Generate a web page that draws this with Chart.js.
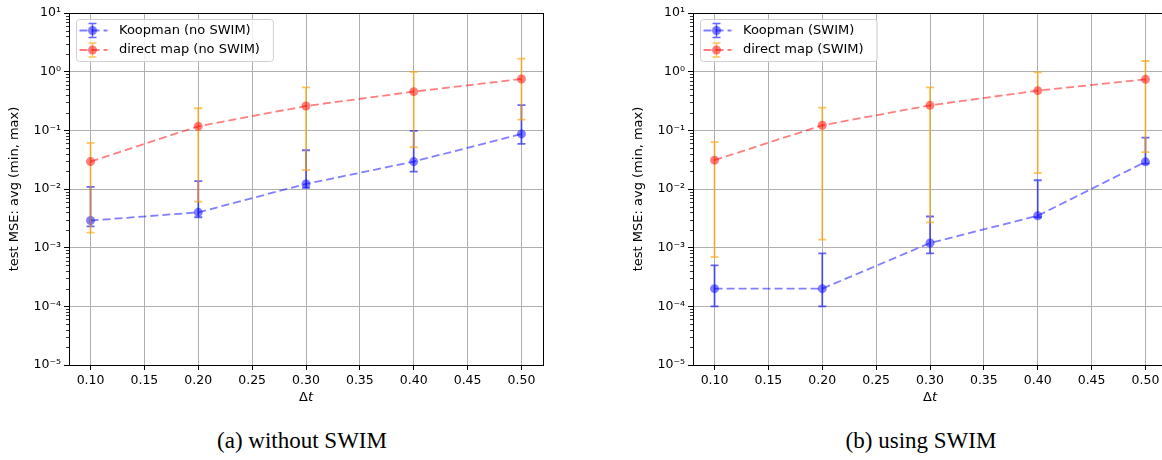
<!DOCTYPE html>
<html>
<head>
<meta charset="utf-8">
<script src="https://cdn.jsdelivr.net/npm/chart.js@4.4.1/dist/chart.umd.min.js"></script>
<style>
  html, body { margin: 0; padding: 0; background: #fff; overflow: hidden; width: 1162px; height: 460px; }
  .panel { position: absolute; top: 0; width: 560px; height: 410px; }
  .caption { position: absolute; top: 428px; font-family: "Liberation Serif", "Times New Roman", serif; font-size: 23px; color: #000; white-space: nowrap; transform: translateX(-50%); }
</style>
</head>
<body>
<div class="panel" style="left:0px"><canvas id="noSwim" width="560" height="410"></canvas></div>
<div class="panel" style="left:624px"><canvas id="swim" width="560" height="410"></canvas></div>
<div class="caption" style="left:302px">(a) without SWIM</div>
<div class="caption" style="left:921px">(b) using SWIM</div>

<script>
// time steps
const dt = [0.10, 0.20, 0.30, 0.40, 0.50];
const xTicks = [0.10, 0.15, 0.20, 0.25, 0.30, 0.35, 0.40, 0.45, 0.50];
const yTicks = [1e-5, 1e-4, 1e-3, 1e-2, 1e-1, 1e0, 1e1];

// (a) without SWIM
const koopNoSwimAvg = [0.0029, 0.0040, 0.0122, 0.0293, 0.087];
const koopNoSwimMin = [0.0023, 0.0033, 0.0105, 0.0198, 0.059];
const koopNoSwimMax = [0.0109, 0.0136, 0.0458, 0.0977, 0.27];
const directNoSwimAvg = [0.0293, 0.117, 0.26, 0.456, 0.75];
const directNoSwimMin = [0.0018, 0.0061, 0.021, 0.0515, 0.152];
const directNoSwimMax = [0.061, 0.238, 0.54, 0.99, 1.67];

// (b) using SWIM
const koopSwimAvg = [0.0002, 0.0002, 0.0012, 0.0035, 0.029];
const koopSwimMin = [0.0001, 0.0001, 0.0008, 0.0033, 0.027];
const koopSwimMax = [0.0005, 0.0008, 0.0034, 0.0141, 0.075];
const directSwimAvg = [0.031, 0.122, 0.267, 0.475, 0.74];
const directSwimMin = [0.00069, 0.00137, 0.0027, 0.0186, 0.0424];
const directSwimMax = [0.063, 0.244, 0.54, 0.976, 1.52];

const FONT = "'DejaVu Sans', sans-serif";
const SUP = { '-': '\u207B', '0': '\u2070', '1': '\u00B9', '2': '\u00B2', '3': '\u00B3', '4': '\u2074', '5': '\u2075' };

function pts(ys) {
  return dt.map((x, i) => ({ x: x, y: ys[i] }));
}

function series(label, avg, mn, mx, col, barCol, order) {
  return {
    label: label,
    data: pts(avg),
    errMin: mn,
    errMax: mx,
    errColor: barCol,
    borderColor: col,
    backgroundColor: col,
    pointBackgroundColor: col,
    pointBorderWidth: 0,
    pointRadius: 4.5,
    borderWidth: 1.8,
    borderDash: [8, 4],
    tension: 0,
    order: order,
    clip: false
  };
}

// error bars, drawn just before each dataset's line and markers
const errorBars = {
  id: 'errorBars',
  beforeDatasetDraw(chart, args) {
    const ds = chart.data.datasets[args.index];
    if (!ds.errMin) return;
    const ctx = chart.ctx, xs = chart.scales.x, ys = chart.scales.y;
    ctx.save();
    ctx.strokeStyle = ds.errColor;
    ctx.lineWidth = 1.8;
    ctx.setLineDash([]);
    dt.forEach((x, i) => {
      const px = xs.getPixelForValue(x);
      const y0 = ys.getPixelForValue(ds.errMin[i]);
      const y1 = ys.getPixelForValue(ds.errMax[i]);
      ctx.beginPath();
      ctx.moveTo(px, y0); ctx.lineTo(px, y1);
      ctx.moveTo(px - 4, y0); ctx.lineTo(px + 4, y0);
      ctx.moveTo(px - 4, y1); ctx.lineTo(px + 4, y1);
      ctx.stroke();
    });
    ctx.restore();
  }
};

// frame, minor ticks, axis titles and legend
const decorations = {
  id: 'decorations',
  afterDraw(chart) {
    const ctx = chart.ctx, a = chart.chartArea, ys = chart.scales.y;
    ctx.save();
    // minor log ticks
    ctx.strokeStyle = '#000';
    ctx.lineWidth = 0.8;
    ctx.beginPath();
    for (let d = -5; d < 1; d++) {
      for (let k = 2; k < 10; k++) {
        const py = Math.round(ys.getPixelForValue(k * Math.pow(10, d))) + 0.5;
        ctx.moveTo(a.left - 3, py); ctx.lineTo(a.left, py);
      }
    }
    ctx.stroke();
    // spines
    ctx.lineWidth = 1;
    ctx.strokeRect(Math.round(a.left) + 0.5, Math.round(a.top) + 0.5, Math.round(a.right - a.left), Math.round(a.bottom - a.top));

    // axis titles
    ctx.fillStyle = '#000';
    ctx.font = "13px " + FONT;
    ctx.textBaseline = 'middle';
    ctx.textAlign = 'left';
    const cx = (a.left + a.right) / 2;
    const wD = ctx.measureText('\u0394').width;
    ctx.font = "oblique 13px " + FONT;
    const wT = ctx.measureText('t').width;
    ctx.font = "13px " + FONT;
    ctx.fillText('\u0394', cx - (wD + wT) / 2, 398);
    ctx.font = "oblique 13px " + FONT;
    ctx.fillText('t', cx - (wD + wT) / 2 + wD, 398);

    ctx.font = "13px " + FONT;
    ctx.translate(15, (a.top + a.bottom) / 2);
    ctx.rotate(-Math.PI / 2);
    ctx.textAlign = 'center';
    ctx.fillText('test MSE: avg (min, max)', 0, 0);
    ctx.setTransform(1, 0, 0, 1, 0, 0);

    // legend
    ctx.font = "13px " + FONT;
    const dss = chart.data.datasets;
    let wMax = 0;
    dss.forEach(ds => { wMax = Math.max(wMax, ctx.measureText(ds.label).width); });
    const bx = a.left + 7.5, by = a.top + 6.5, bw = 50 + wMax + 6, bh = 42;
    ctx.beginPath();
    ctx.roundRect(bx, by, bw, bh, 3);
    ctx.fillStyle = 'rgba(255,255,255,0.8)';
    ctx.fill();
    ctx.strokeStyle = '#d0d0d0';
    ctx.lineWidth = 1;
    ctx.stroke();
    dss.forEach((ds, i) => {
      const ly = a.top + 17.5 + i * 19.5;
      const mx = bx + 16;
      ctx.strokeStyle = ds.errColor;
      ctx.lineWidth = 1.5;
      ctx.setLineDash([]);
      ctx.beginPath();
      ctx.moveTo(mx, ly - 7); ctx.lineTo(mx, ly + 7);
      ctx.moveTo(mx - 4, ly - 7); ctx.lineTo(mx + 4, ly - 7);
      ctx.moveTo(mx - 4, ly + 7); ctx.lineTo(mx + 4, ly + 7);
      ctx.stroke();
      ctx.strokeStyle = ds.borderColor;
      ctx.lineWidth = 1.8;
      ctx.setLineDash([8, 4]);
      ctx.beginPath();
      ctx.moveTo(bx + 3, ly); ctx.lineTo(bx + 31, ly);
      ctx.stroke();
      ctx.setLineDash([]);
      ctx.fillStyle = ds.borderColor;
      ctx.beginPath();
      ctx.arc(mx, ly, 4.5, 0, Math.PI * 2);
      ctx.fill();
      ctx.fillStyle = '#000';
      ctx.textAlign = 'left';
      ctx.fillText(ds.label, bx + 42.5, ly);
    });
    ctx.restore();
  }
};

function makeChart(id, datasets) {
  return new Chart(document.getElementById(id), {
    type: 'line',
    data: { datasets: datasets },
    options: {
      responsive: false,
      animation: false,
      layout: { padding: { top: 13, right: 17, left: 0, bottom: 0 } },
      plugins: { legend: { display: false }, tooltip: { enabled: false } },
      scales: {
        x: {
          type: 'linear',
          min: 0.08,
          max: 0.52,
          afterBuildTicks: s => { s.ticks = xTicks.map(v => ({ value: v })); },
          afterFit: s => { s.height = 45; },
          grid: { color: '#b0b0b0', lineWidth: 1, tickLength: 5, tickColor: '#000' },
          border: { display: false },
          ticks: {
            maxRotation: 0,
            autoSkip: false,
            padding: 3,
            color: '#000',
            font: { family: FONT, size: 12.5 },
            callback: v => v.toFixed(2)
          }
        },
        y: {
          type: 'logarithmic',
          min: 1e-5,
          max: 10,
          afterBuildTicks: s => { s.ticks = yTicks.map(v => ({ value: v })); },
          afterFit: s => { s.width = 69; },
          grid: { color: '#b0b0b0', lineWidth: 1, tickLength: 5, tickColor: '#000' },
          border: { display: false },
          ticks: {
            autoSkip: false,
            padding: 3,
            color: '#000',
            font: { family: FONT, size: 12.5 },
            callback: v => '10' + String(Math.round(Math.log10(v))).split('').map(c => SUP[c]).join('')
          }
        }
      }
    },
    plugins: [errorBars, decorations]
  });
}

const BLUE = 'rgba(0,0,255,0.5)', BLUE_BAR = 'rgba(0,0,255,0.6)';
const RED = 'rgba(255,0,0,0.5)', ORANGE_BAR = 'rgba(255,165,0,0.65)';

makeChart('noSwim', [
  series('Koopman (no SWIM)', koopNoSwimAvg, koopNoSwimMin, koopNoSwimMax, BLUE, BLUE_BAR, 1),
  series('direct map (no SWIM)', directNoSwimAvg, directNoSwimMin, directNoSwimMax, RED, ORANGE_BAR, 0)
]);

makeChart('swim', [
  series('Koopman (SWIM)', koopSwimAvg, koopSwimMin, koopSwimMax, BLUE, BLUE_BAR, 1),
  series('direct map (SWIM)', directSwimAvg, directSwimMin, directSwimMax, RED, ORANGE_BAR, 0)
]);
</script>
</body>
</html>
